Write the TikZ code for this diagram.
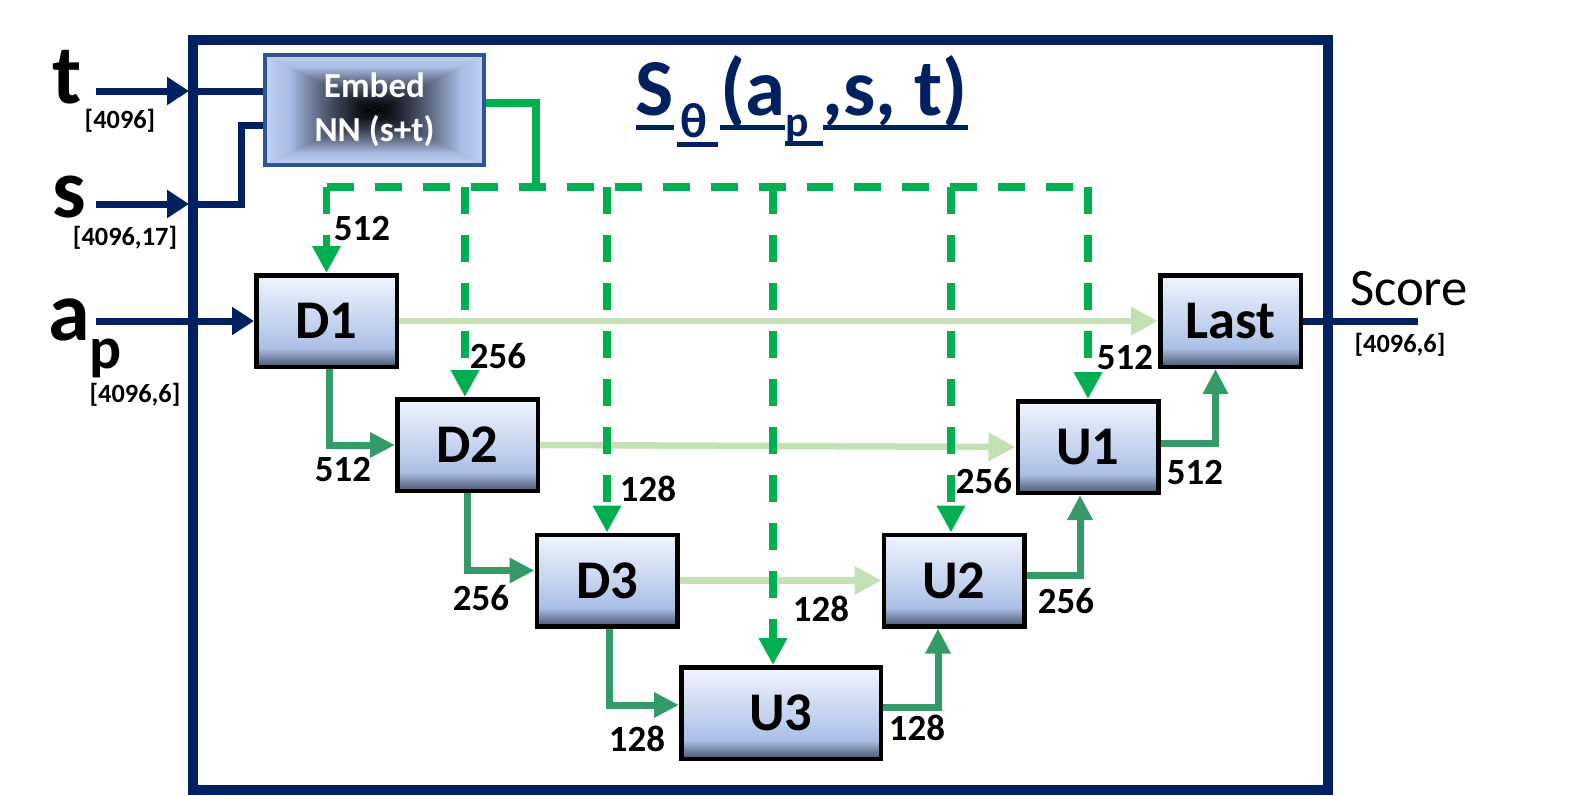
\documentclass[tikz,border=0pt]{standalone}
\usepackage{fontspec}
\setmainfont{Carlito}
\usetikzlibrary{arrows.meta}
\definecolor{navy}{HTML}{002060}
\definecolor{grn}{HTML}{00B050}
\definecolor{tealg}{HTML}{349A68}
\definecolor{lgrn}{HTML}{C5E0B4}
\definecolor{embB}{HTML}{2F5597}
\definecolor{bxA}{HTML}{4C5A74}
\definecolor{bxB}{HTML}{6D7D9C}
\definecolor{bxC}{HTML}{AABEE4}
\definecolor{bxD}{HTML}{C6D4EE}
\definecolor{bxE}{HTML}{F0F4FC}
\definecolor{emA}{HTML}{15181F}
\definecolor{emB}{HTML}{383F50}
\definecolor{emC}{HTML}{5D6880}
\definecolor{emD}{HTML}{8896B5}
\definecolor{emE}{HTML}{A9BCE3}
\definecolor{emF}{HTML}{B4C6EA}
\definecolor{emG}{HTML}{C6D4F0}
\pgfdeclareverticalshading{boxV}{100bp}{color(0bp)=(bxA); color(25bp)=(bxA); color(29bp)=(bxB); color(35bp)=(bxC); color(50bp)=(bxD); color(75bp)=(bxE); color(100bp)=(bxE)}
\pgfdeclareverticalshading{embV}{100bp}{color(0bp)=(black); color(25bp)=(black); color(33bp)=(emA); color(42bp)=(emB); color(50bp)=(emC); color(58bp)=(emD); color(64bp)=(emE); color(70bp)=(emF); color(75bp)=(emG); color(100bp)=(emG)}
\newcommand\ulm[1]{\setbox0=\hbox{#1}\leavevmode\rlap{\raisebox{-4.3pt}{\rule{\wd0}{1.4pt}}}\box0}
\newcommand\uls[1]{\setbox0=\hbox{#1}\leavevmode\rlap{\raisebox{-2.7pt}{\rule{\wd0}{1.2pt}}}\box0}
\begin{document}
\begin{tikzpicture}[x=0.1mm, y=-0.1mm,
  blk/.style={draw=black, line width=0.45mm, shade, shading=boxV, minimum width=14.05mm, minimum height=9.15mm, inner sep=0, font=\bfseries\fontsize{15.5pt}{16pt}\selectfont},
  num/.style={font=\bfseries\fontsize{10.5pt}{12pt}\selectfont, inner sep=0},
  dimlbl/.style={font=\bfseries\fontsize{7.5pt}{9pt}\selectfont, inner sep=0},
  biglbl/.style={font=\bfseries\fontsize{24pt}{24pt}\selectfont, inner sep=0, anchor=base west},
  navyln/.style={draw=navy, line width=0.7mm},
  inarr/.style={navyln, -{Triangle[length=2.2mm,width=2.7mm]}},
  skipln/.style={draw=lgrn, line width=0.65mm, -{Triangle[length=2.7mm,width=2.7mm]}},
  downln/.style={draw=tealg, line width=0.7mm, -{Triangle[length=2.5mm,width=2.4mm]}},
  dashln/.style={draw=grn, line width=0.75mm, dash pattern=on 2.7mm off 2.1mm},
  dasharr/.style={dashln, -{Triangle[length=2.7mm,width=2.7mm]}}
]
\useasboundingbox (0,0) rectangle (1571,796);
% frame
\draw[navy, line width=1mm] (193,40) rectangle (1328,790);

% embed box shading
\coordinate (ec) at (374.5,110);
\fill[emD] (265,55) rectangle (484,165);
\shade[shading=embV] (265,55) -- (484,55) -- (ec) -- cycle;
\shade[shading=embV, shading angle=180] (265,165) -- (484,165) -- (ec) -- cycle;
\shade[shading=embV, shading angle=90] (265,55) -- (265,165) -- (ec) -- cycle;
\shade[shading=embV, shading angle=-90] (484,55) -- (484,165) -- (ec) -- cycle;
\node[draw=embB, line width=0.35mm, minimum width=21.9mm, minimum height=11mm, inner sep=0, text=white, align=center, font=\bfseries\fontsize{10pt}{12.5pt}\selectfont] (emb) at (ec) {Embed\\NN (s+t)};

% title
\node[anchor=base west, text=navy, inner sep=0, font=\bfseries\fontsize{23pt}{23pt}\selectfont] (title) at (635,115)
  {\ulm{S}\kern1pt\raisebox{-6.3pt}{\fontsize{14pt}{14pt}\selectfont\uls{\hspace{1pt}θ\hspace{3pt}}}\kern0.5pt\ulm{(a}\raisebox{-6pt}{\fontsize{12.4pt}{12pt}\selectfont\uls{p\hspace{4pt}}}\ulm{,s, t)}};

% blocks
\node[blk] (D1) at (326.5,321) {D1};
\node[blk] (D2) at (467.5,445) {D2};
\node[blk] (D3) at (607,580.5) {D3};
\node[blk, minimum width=19.95mm] (U3) at (781,713) {U3};
\node[blk] (U2) at (954,580.5) {U2};
\node[blk] (U1) at (1088,447) {U1};
\node[blk] (Last) at (1230.5,321) {Last};

% inputs
\node[biglbl] (tl) at (52,103) {t};
\node[dimlbl] (tdim) at (120,121) {[4096]};
\node[biglbl] (sl) at (52,217) {s};
\node[dimlbl] (sdim) at (125,238) {[4096,17]};
\node[biglbl] (al) at (48,340) {a};
\node[anchor=base west, inner sep=0, font=\bfseries\fontsize{17pt}{17pt}\selectfont] (pl) at (89,368) {p};
\node[dimlbl] (adim) at (135,395) {[4096,6]};

\coordinate (tin) at (96,91);
\coordinate (tfr) at (189,91);
\coordinate (tfi) at (193,91);
\draw[inarr] (tin) -- (tfr);
\draw[navyln] (tfi) -- (tfi -| emb.west);
\coordinate (sin) at (96,204);
\coordinate (sfr) at (189,204);
\coordinate (sfi) at (193,204);
\coordinate (sk) at (241,125);
\draw[inarr] (sin) -- (sfr);
\draw[navyln] (sfi) -| (sk) -- (sk -| emb.west);
\coordinate (ain) at (96,321);
\draw[inarr] (ain) -- (D1.west);

% output
\coordinate (sc) at (1418,321);
\draw[navyln] (Last.east) -- (sc);
\node[inner sep=0, font=\fontsize{15pt}{15pt}\selectfont] (score) at (1409,289) {Score};
\node[dimlbl] (scdim) at (1400,345) {[4096,6]};

% skip connections
\draw[skipln] (D1.east) -- (Last.west);
\draw[skipln] (D2.east) -- (U1.west);
\draw[skipln] (D3.east) -- (U2.west);

% embedding bus
\coordinate (bus) at (0,187);
\coordinate (eo) at (536,187);
\draw[draw=grn, line width=0.75mm] ([yshift=0.7mm]emb.east) -| (eo);
\draw[dashln] (D1.north |- bus) -- (U1.north |- bus);
\draw[dasharr] (D1.north |- bus) -- (D1.north);
\draw[dasharr] ([xshift=-0.25mm]D2.north |- bus) -- ([xshift=-0.25mm]D2.north);
\draw[dasharr] (D3.north |- bus) -- (D3.north);
\coordinate (u3t) at ([xshift=-0.8mm]U3.north);
\draw[dasharr] (u3t |- bus) -- (u3t);
\draw[dasharr] ([xshift=-0.3mm]U2.north |- bus) -- ([xshift=-0.3mm]U2.north);
\draw[dasharr] (U1.north |- bus) -- (U1.north);

% down / up connections
\draw[downln] ([xshift=0.3mm]D1.south) |- (D2.west);
\draw[downln] (D2.south) |- ([yshift=1mm]D3.west);
\draw[downln] ([xshift=0.2mm]D3.south) |- ([yshift=0.8mm]U3.west);
\draw[downln] ([yshift=0.6mm]U3.east) -| ([xshift=-1.6mm]U2.south);
\draw[downln] ([yshift=0.55mm]U2.east) -| ([xshift=-0.8mm]U1.south);
\draw[downln] ([yshift=0.4mm]U1.east) -| ([xshift=-1.5mm]Last.south);

% labels
\node[num] (n1) at (362,229) {512};
\node[num] (n2) at (498,356) {256};
\node[num] (n3) at (648,489) {128};
\node[num] (n4) at (984,481) {256};
\node[num] (n5) at (1125,358) {512};
\node[num] (n6) at (343,470) {512};
\node[num] (n7) at (481,598) {256};
\node[num] (n8) at (637,739) {128};
\node[num] (n9) at (821,609) {128};
\node[num] (n10) at (917,728) {128};
\node[num] (n11) at (1066,601) {256};
\node[num] (n12) at (1195,473) {512};
\end{tikzpicture}
\end{document}
